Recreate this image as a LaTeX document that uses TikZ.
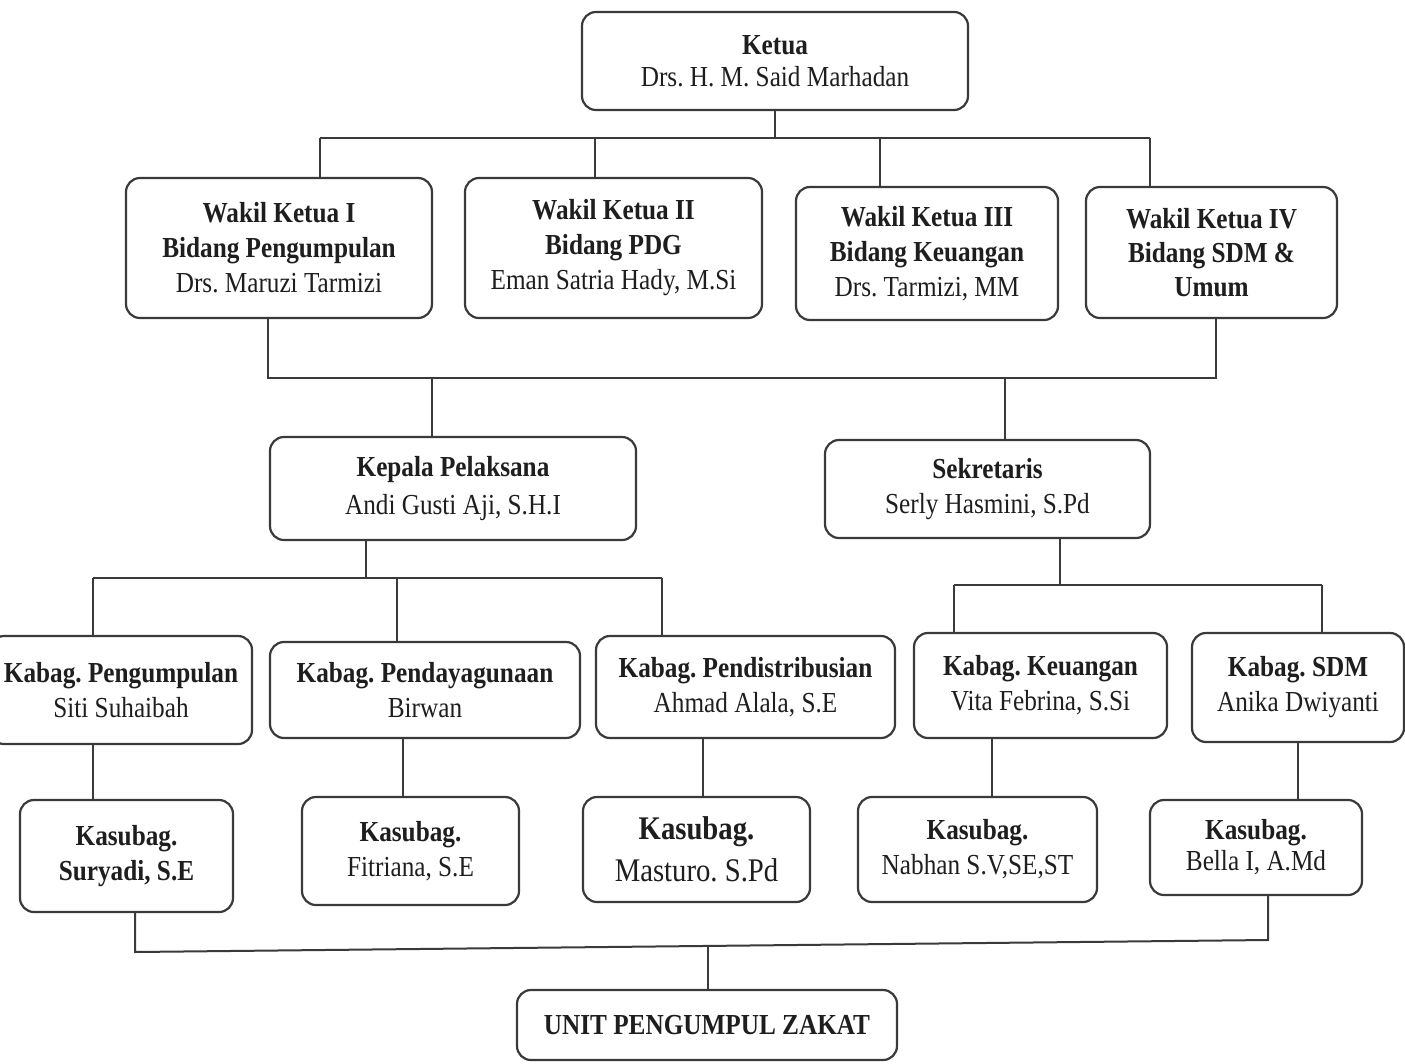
\documentclass[tikz,border=0pt]{standalone}
\usepackage{fontspec}
\setmainfont{Liberation Serif}[FakeStretch=0.87]
\usepackage{xcolor}
\usepackage{tikz}
\usetikzlibrary{positioning}
\definecolor{LineGray}{HTML}{3A3A3A}
\definecolor{TextGray}{HTML}{1E1E1E}
\frenchspacing

\begin{document}
\begin{tikzpicture}[x=1pt, y=-1pt,
  post/.style={rectangle, rounded corners=14pt, draw=LineGray, line width=2.2pt,
    fill=white, align=center, inner sep=0pt, text=TextGray,
    font=\fontsize{29}{35}\selectfont},
  conn/.style={LineGray, line width=2pt}
]
\useasboundingbox[fill=white] (0,0) rectangle (1405,1063);

% pimpinan
\node[post, minimum width=386pt, minimum height=98pt, font=\fontsize{29}{32}\selectfont] (ketua) at (775,61)
  {\textbf{Ketua}\\Drs. H. M. Said Marhadan};

\node[post, minimum width=306pt, minimum height=140pt] (wk1) at (279,248)
  {\textbf{Wakil Ketua I}\\\textbf{Bidang Pengumpulan}\\Drs. Maruzi Tarmizi};
\node[post, minimum width=297pt, minimum height=140pt] (wk2) at (613.5,248)
  {\textbf{Wakil Ketua II}\\\textbf{Bidang PDG}\\Eman Satria Hady, M.Si};
\node[post, minimum width=262pt, minimum height=133pt] (wk3) at (927,253.5)
  {\textbf{Wakil Ketua III}\\\textbf{Bidang Keuangan}\\Drs. Tarmizi, MM};
\node[post, minimum width=251pt, minimum height=131pt, font=\fontsize{29}{34}\selectfont] (wk4) at (1211.5,252.5)
  {\textbf{Wakil Ketua IV}\\\textbf{Bidang SDM \&}\\\textbf{Umum}};

% pelaksana
\node[post, minimum width=366pt, minimum height=103pt, font=\fontsize{29}{38}\selectfont] (kepala) at (453,488.5)
  {\textbf{Kepala Pelaksana}\\Andi Gusti Aji, S.H.I};
\node[post, minimum width=325pt, minimum height=98pt] (sekre) at (987.5,489)
  {\textbf{Sekretaris}\\Serly Hasmini, S.Pd};

% kabag
\node[post, minimum width=262pt, minimum height=108pt] (kb1) at (121,690)
  {\textbf{Kabag. Pengumpulan}\\Siti Suhaibah};
\node[post, minimum width=310pt, minimum height=96pt] (kb2) at (425,690)
  {\textbf{Kabag. Pendayagunaan}\\Birwan};
\node[post, minimum width=299pt, minimum height=102pt] (kb3) at (745.5,687)
  {\textbf{Kabag. Pendistribusian}\\Ahmad Alala, S.E};
\node[post, minimum width=253pt, minimum height=105pt] (kb4) at (1040.5,685.5)
  {\textbf{Kabag. Keuangan}\\Vita Febrina, S.Si};
\node[post, minimum width=212pt, minimum height=109pt] (kb5) at (1298,687.5)
  {\textbf{Kabag. SDM}\\Anika Dwiyanti};

% kasubag
\node[post, minimum width=213pt, minimum height=112pt] (ks1) at (126.5,856)
  {\textbf{Kasubag.}\\\textbf{Suryadi, S.E}};
\node[post, minimum width=217pt, minimum height=108pt] (ks2) at (410.5,851)
  {\textbf{Kasubag.}\\Fitriana, S.E};
\node[post, minimum width=227pt, minimum height=105pt, font=\fontsize{33}{42}\selectfont] (ks3) at (696.5,849.5)
  {\textbf{Kasubag.}\\Masturo.\ S.Pd};
\node[post, minimum width=239pt, minimum height=105pt] (ks4) at (977.5,849.5)
  {\textbf{Kasubag.}\\Nabhan S.V,SE,ST};
\node[post, minimum width=212pt, minimum height=95pt, font=\fontsize{29}{31}\selectfont] (ks5) at (1256,847.5)
  {\textbf{Kasubag.}\\Bella I, A.Md};

\node[post, minimum width=380pt, minimum height=70pt] (unit) at (707,1025)
  {\textbf{UNIT PENGUMPUL ZAKAT}};

% garis ketua - wakil
\coordinate (t1) at (320,138);
\coordinate (t2) at (595,138);
\coordinate (t3) at (880,138);
\coordinate (t4) at (1150,138);
\draw[conn] (ketua.south) -- (ketua.south |- t1);
\draw[conn] (t1) -- (t4);
\draw[conn] (t1) -- (t1 |- wk1.north);
\draw[conn] (t2) -- (t2 |- wk2.north);
\draw[conn] (t3) -- (t3 |- wk3.north);
\draw[conn] (t4) -- (t4 |- wk4.north);

% garis wakil - pelaksana
\coordinate (m1) at (268,378);
\coordinate (m2) at (1216,378);
\coordinate (m3) at (432,378);
\coordinate (m4) at (1005,378);
\draw[conn] (m1 |- wk1.south) -- (m1) -- (m2) -- (m2 |- wk4.south);
\draw[conn] (m3) -- (m3 |- kepala.north);
\draw[conn] (m4) -- (m4 |- sekre.north);

% garis kepala pelaksana - kabag
\coordinate (k0) at (366,578);
\coordinate (k1) at (93,578);
\coordinate (k2) at (397,578);
\coordinate (k3) at (662,578);
\draw[conn] (k0 |- kepala.south) -- (k0);
\draw[conn] (k1) -- (k3);
\draw[conn] (k1) -- (k1 |- kb1.north);
\draw[conn] (k2) -- (k2 |- kb2.north);
\draw[conn] (k3) -- (k3 |- kb3.north);

% garis sekretaris - kabag
\coordinate (s0) at (1060,585);
\coordinate (s1) at (954,585);
\coordinate (s2) at (1322,585);
\draw[conn] (s0 |- sekre.south) -- (s0);
\draw[conn] (s1) -- (s2);
\draw[conn] (s1) -- (s1 |- kb4.north);
\draw[conn] (s2) -- (s2 |- kb5.north);

% garis kabag - kasubag
\coordinate (c1) at (93,0);
\coordinate (c2) at (403,0);
\coordinate (c3) at (703,0);
\coordinate (c4) at (992,0);
\coordinate (c5) at (1298,0);
\draw[conn] (c1 |- kb1.south) -- (c1 |- ks1.north);
\draw[conn] (c2 |- kb2.south) -- (c2 |- ks2.north);
\draw[conn] (c3 |- kb3.south) -- (c3 |- ks3.north);
\draw[conn] (c4 |- kb4.south) -- (c4 |- ks4.north);
\draw[conn] (c5 |- kb5.south) -- (c5 |- ks5.north);

% garis kasubag - unit
\coordinate (u1) at (135,952);
\coordinate (u2) at (1268,940);
\coordinate (u0) at (708,946);
\draw[conn] (u1 |- ks1.south) -- (u1) -- (u2) -- (u2 |- ks5.south);
\draw[conn] (u0) -- (u0 |- unit.north);

\end{tikzpicture}
\end{document}
